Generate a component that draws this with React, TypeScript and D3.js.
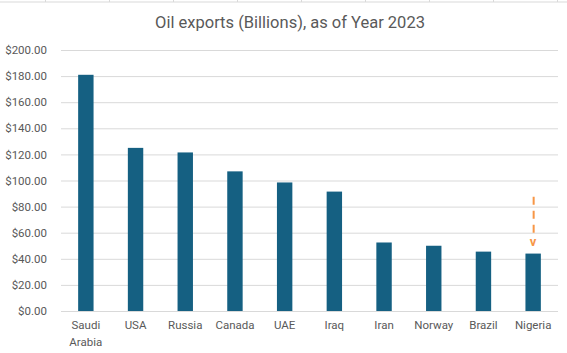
import React, { useEffect, useRef } from 'react';
import * as d3 from 'd3';

// oil exports, billions USD, 2023
const countries = ['Saudi Arabia', 'USA', 'Russia', 'Canada', 'UAE', 'Iraq', 'Iran', 'Norway', 'Brazil', 'Nigeria'];
const exportsBn = [181, 125, 121.5, 107, 98.5, 91.5, 52.5, 50, 45.5, 44];
const yTicks = [0, 20, 40, 60, 80, 100, 120, 140, 160, 180, 200];
// dashed marker above Nigeria (value range it spans)
const markerFrom = [87.5];
const markerTo = [60];
const markerCountry = ['Nigeria'];
const sheetCols = [0, 1, 2, 3, 4, 5, 6, 7, 8];

const W = 567;
const H = 353;
const margin = { top: 50, right: 9, bottom: 42, left: 61 };
const FONT = 'Roboto, "Noto Sans", sans-serif';

const App = () => {
  const ref = useRef<SVGSVGElement>(null);

  useEffect(() => {
    const svg = d3.select(ref.current);
    svg.selectAll('*').remove();

    const x = d3.scaleBand()
      .domain(countries)
      .range([margin.left, W - margin.right])
      .paddingInner(0.69)
      .paddingOuter(0.345);

    const y = d3.scaleLinear()
      .domain([0, 200])
      .range([H - margin.bottom, margin.top]);

    // spreadsheet cell border peeking in at the top
    svg.append('line')
      .attr('x1', 0).attr('x2', W).attr('y1', 2).attr('y2', 2)
      .attr('stroke', '#d9d9d9').attr('stroke-width', 1);
    svg.append('g')
      .selectAll('line')
      .data(sheetCols)
      .join('line')
      .attr('x1', d => 45.5 + d * 64).attr('x2', d => 45.5 + d * 64)
      .attr('y1', 0).attr('y2', 2)
      .attr('stroke', '#d9d9d9');

    svg.append('text')
      .attr('x', 290)
      .attr('y', 28)
      .attr('text-anchor', 'middle')
      .attr('font-family', FONT)
      .attr('font-size', 16.5)
      .attr('fill', '#595959')
      .text('Oil exports (Billions), as of Year 2023');

    const yAxis = d3.axisLeft(y)
      .tickValues(yTicks)
      .tickSize(-(W - margin.left - margin.right))
      .tickPadding(14)
      .tickFormat(d => `$${(+d).toFixed(2)}`);

    svg.append('g')
      .attr('transform', `translate(${margin.left}, 0)`)
      .call(yAxis)
      .call(g => g.select('.domain').remove())
      .call(g => g.selectAll('.tick line').attr('stroke', '#d9d9d9'))
      .call(g => g.selectAll('.tick text')
        .attr('fill', '#595959')
        .attr('font-family', FONT)
        .attr('font-size', 11.5));

    svg.append('g')
      .selectAll('rect')
      .data(countries)
      .join('rect')
      .attr('x', d => x(d)!)
      .attr('width', x.bandwidth())
      .attr('y', (d, i) => y(exportsBn[i]))
      .attr('height', (d, i) => y(0) - y(exportsBn[i]))
      .attr('fill', '#156082');

    const labels = svg.append('g')
      .selectAll('text')
      .data(countries)
      .join('text')
      .attr('x', d => x(d)! + x.bandwidth() / 2)
      .attr('y', H - margin.bottom + 18)
      .attr('text-anchor', 'middle')
      .attr('font-family', FONT)
      .attr('font-size', 11.5)
      .attr('fill', '#595959');
    labels.each(function (d) {
      const words = d.split(' ');
      d3.select(this).selectAll('tspan')
        .data(words)
        .join('tspan')
        .attr('x', x(d)! + x.bandwidth() / 2)
        .attr('dy', (w, i) => (i === 0 ? 0 : 17))
        .text(w => w);
    });

    const marker = svg.append('g')
      .selectAll('g')
      .data(markerCountry)
      .join('g');
    marker.append('line')
      .attr('x1', d => x(d)! + x.bandwidth() / 2 + 0.5)
      .attr('x2', d => x(d)! + x.bandwidth() / 2 + 0.5)
      .attr('y1', (d, i) => y(markerFrom[i]))
      .attr('y2', (d, i) => y(markerTo[i]))
      .attr('stroke', '#f79646')
      .attr('stroke-width', 2)
      .attr('stroke-dasharray', '8,6');
    marker.append('text')
      .attr('x', d => x(d)! + x.bandwidth() / 2)
      .attr('y', (d, i) => y(markerTo[i]) + 13)
      .attr('text-anchor', 'middle')
      .attr('font-family', FONT)
      .attr('font-size', 13)
      .attr('font-weight', 'bold')
      .attr('fill', '#f79646')
      .text('v');
  });

  return (
    <svg
      ref={ref}
      width={W}
      height={H}
      viewBox={`0 0 ${W} ${H}`}
      style={{ position: 'absolute', left: 0, top: 0, background: '#fff' }}
    />
  );
};

export default App;
